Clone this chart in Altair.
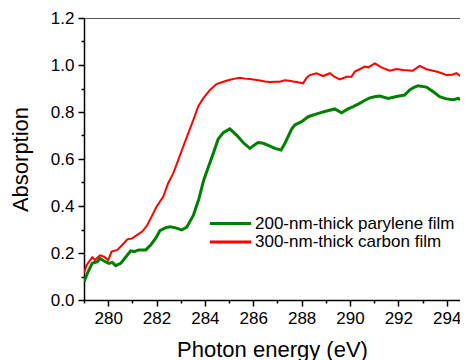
import altair as alt
import pandas as pd

series_names = ["200-nm-thick parylene film", "300-nm-thick carbon film"]
series_colors = ["#008000", "#ff0000"]

energy_parylene = [279.0, 279.14, 279.34, 279.55, 279.66, 279.83, 280.03, 280.17, 280.31, 280.52,
                   280.72, 280.93, 281.07, 281.27, 281.55, 281.76, 281.96, 282.14, 282.38, 282.55,
                   282.76, 283.04, 283.25, 283.52, 283.75, 283.95, 284.14, 284.35, 284.55, 284.76,
                   285.03, 285.31, 285.58, 285.86, 286.05, 286.2, 286.41, 286.69, 286.9,
                   287.15, 287.3, 287.44, 287.6, 287.72, 288.0, 288.27, 288.69, 289.03, 289.37,
                   289.65, 289.9, 290.13, 290.4, 290.62, 290.82, 291.02, 291.23, 291.58, 291.92,
                   292.26, 292.47, 292.65, 292.82, 293.16, 293.43, 293.71, 293.95, 294.12, 294.3,
                   294.47, 294.68, 294.87, 295.0]
abs_parylene = [0.078, 0.113, 0.156, 0.163, 0.177, 0.166, 0.156, 0.160, 0.146, 0.156,
                0.182, 0.209, 0.206, 0.213, 0.213, 0.234, 0.262, 0.295, 0.308, 0.312,
                0.308, 0.298, 0.310, 0.360, 0.430, 0.510, 0.565, 0.625, 0.685, 0.712,
                0.728, 0.702, 0.670, 0.645, 0.660, 0.670, 0.667, 0.655, 0.645,
                0.638, 0.665, 0.695, 0.730, 0.745, 0.759, 0.780, 0.794, 0.804, 0.813,
                0.797, 0.812, 0.823, 0.837, 0.850, 0.860, 0.865, 0.868, 0.858, 0.866,
                0.872, 0.894, 0.905, 0.912, 0.906, 0.887, 0.865, 0.857, 0.854, 0.852,
                0.858, 0.848, 0.858, 0.857]

energy_carbon = [279.0, 279.11, 279.34, 279.45, 279.66, 279.83, 280.0, 280.14, 280.38, 280.58,
                 280.79, 281.0, 281.2, 281.41, 281.62, 281.82, 282.0, 282.28, 282.48, 282.69,
                 282.9, 283.1, 283.31, 283.52, 283.72, 283.93, 284.21, 284.48, 284.76,
                 285.03, 285.25, 285.45, 285.65, 285.86, 286.07, 286.27, 286.48, 286.69, 286.9,
                 287.1, 287.3, 287.5, 287.65, 287.85, 288.06, 288.2, 288.34, 288.61, 288.89,
                 289.17, 289.35, 289.58, 289.86, 290.06, 290.2, 290.4, 290.61, 290.75, 291.03,
                 291.3, 291.64, 291.92, 292.19, 292.6, 292.88, 293.16, 293.57, 293.8, 293.99,
                 294.2, 294.4, 294.61, 294.87, 295.0]
abs_carbon = [0.115, 0.149, 0.182, 0.170, 0.190, 0.184, 0.170, 0.206, 0.213, 0.234,
              0.258, 0.262, 0.277, 0.291, 0.319, 0.360, 0.397, 0.440, 0.497, 0.539,
              0.596, 0.652, 0.709, 0.766, 0.823, 0.858, 0.894, 0.919, 0.929,
              0.937, 0.942, 0.946, 0.942, 0.940, 0.937, 0.934, 0.930, 0.928, 0.929,
              0.929, 0.935, 0.933, 0.930, 0.927, 0.922, 0.945, 0.957, 0.965, 0.953,
              0.965, 0.950, 0.939, 0.950, 0.950, 0.972, 0.982, 0.993, 0.990, 1.007,
              0.990, 0.976, 0.983, 0.979, 0.976, 0.996, 0.982, 0.972, 0.965, 0.957,
              0.958, 0.965, 0.950, 0.965, 0.958]

x_ticks = [280, 282, 284, 286, 288, 290, 292, 294]
x_minor = [279, 281, 283, 285, 287, 289, 291, 293]
y_ticks = [0.0, 0.2, 0.4, 0.6, 0.8, 1.0, 1.2]
y_minor = [0.1, 0.3, 0.5, 0.7, 0.9, 1.1]

df = pd.concat([
    pd.DataFrame({"energy": energy_parylene, "absorption": abs_parylene,
                  "series": series_names[0], "w": 3.0}),
    pd.DataFrame({"energy": energy_carbon, "absorption": abs_carbon,
                  "series": series_names[1], "w": 2.0}),
])

FONT = "Liberation Sans"
xscale = alt.Scale(domain=[279, 294.55], nice=False, zero=False)
yscale = alt.Scale(domain=[0, 1.2], nice=False)

lines = alt.Chart(df).mark_line(clip=True).encode(
    x=alt.X("energy:Q", scale=xscale,
            axis=alt.Axis(values=x_ticks, format="d", title="Photon energy (eV)",
                          orient="bottom", tickSize=6, labelPadding=4, titlePadding=13,
                          grid=False)),
    y=alt.Y("absorption:Q", scale=yscale,
            axis=alt.Axis(values=y_ticks, format=".1f", title="Absorption",
                          orient="left", tickSize=6, labelPadding=4, titlePadding=18,
                          grid=False)),
    color=alt.Color("series:N",
                    scale=alt.Scale(domain=series_names, range=series_colors),
                    legend=alt.Legend(title=None, orient="none", legendX=138, legendY=197,
                                      symbolType="M-3,0H3", symbolSize=190,
                                      symbolStrokeWidth=3, labelFontSize=17,
                                      labelFont=FONT, labelColor="#000", labelLimit=0,
                                      labelOffset=16, rowPadding=0.5, padding=0)),
    strokeWidth=alt.StrokeWidth("w:Q", scale=None, legend=None),
    detail="series:N",
)

minor = alt.Chart(df).mark_point(opacity=0, clip=True).encode(
    x=alt.X("energy:Q", scale=xscale,
            axis=alt.Axis(values=x_minor, labels=False, domain=False, title=None,
                          orient="bottom", tickSize=3, grid=False)),
    y=alt.Y("absorption:Q", scale=yscale,
            axis=alt.Axis(values=y_minor, labels=False, domain=False, title=None,
                          orient="left", tickSize=3, grid=False)),
)

frame_top = alt.Chart(df).mark_point(opacity=0, clip=True).encode(
    x=alt.X("energy:Q", scale=xscale,
            axis=alt.Axis(orient="top", labels=False, ticks=False, domain=True,
                          domainColor="#555", domainWidth=1.2, title=None, grid=False)),
    y=alt.Y("absorption:Q", scale=yscale, axis=None),
)

chart = alt.layer(lines, minor, frame_top).resolve_axis(
    x="independent", y="independent"
).properties(
    width=376, height=282,
    padding={"left": 76, "top": 10, "right": 0, "bottom": 70},
    autosize=alt.AutoSizeParams(type="none"),
).configure_view(
    strokeWidth=0
).configure_axis(
    domainColor="#000", domainWidth=1.5, tickColor="#000", tickWidth=1.5,
    labelFont=FONT, labelFontSize=17, labelColor="#000",
    titleFont=FONT, titleFontSize=22, titleFontWeight="normal", titleColor="#000",
)

chart.save("out.html", embed_options={"renderer": "svg", "actions": False})
